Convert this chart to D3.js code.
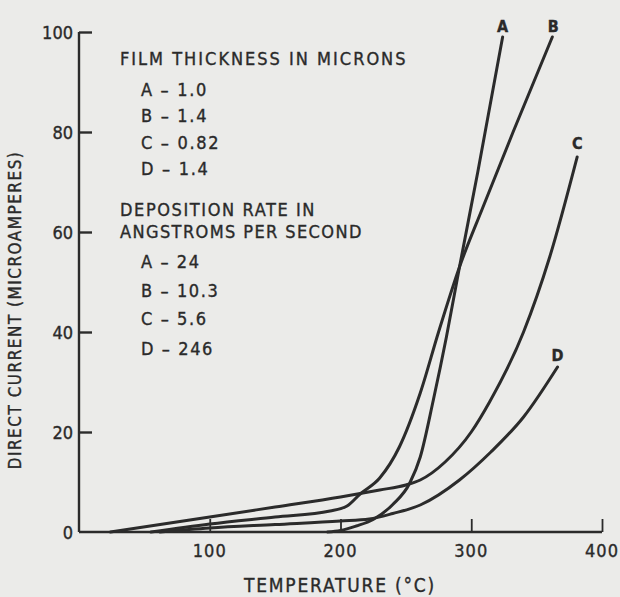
<!DOCTYPE html>
<html><head><meta charset="utf-8">
<script src="https://cdn.jsdelivr.net/npm/d3@7"></script>
<style>
html,body{margin:0;padding:0;background:#ebebe9;}
svg{display:block;}
text{font-family:"DejaVu Sans Condensed","DejaVu Sans",sans-serif;fill:#2a2a2a;stroke:#2a2a2a;stroke-width:0.35px;}
</style></head>
<body>
<svg id="chart" width="620" height="597"></svg>
<script>
// ---- data ----
const seriesNames = ["A", "B", "C", "D"];
const tempA = [190, 200, 212, 225, 240, 253, 261, 271, 281, 291, 305, 324];
const currA = [0, 0.3, 1.2, 2.5, 5.5, 9.8, 15, 26.4, 39, 53, 72, 99];
const tempB = [55, 100, 150, 192, 205, 215, 230, 245, 261, 275, 291, 309, 332, 362];
const currB = [0, 1.6, 3.0, 4.2, 5.2, 7.6, 10.8, 17, 27.8, 40, 53, 65, 80, 99];
const tempC = [24, 100, 150, 200, 230, 250, 261, 280, 300, 314, 340, 360, 381];
const currC = [0, 3.0, 5.0, 7.0, 8.4, 9.4, 10.4, 14, 20, 26, 40, 55, 75];
const tempD = [62, 100, 150, 200, 222, 240, 261, 291, 315, 340, 366];
const currD = [0, 0.8, 1.5, 2.2, 2.6, 3.7, 5.4, 10.4, 16, 23, 33];
const xTicks = [100, 200, 300, 400];
const yTicks = [20, 40, 60, 80, 100];
const thicknessTitle = "FILM THICKNESS IN MICRONS";
const thicknessLabels = ["A – 1.0", "B – 1.4", "C – 0.82", "D – 1.4"];
const rateTitle = ["DEPOSITION RATE IN", "ANGSTROMS PER SECOND"];
const rateLabels = ["A – 24", "B – 10.3", "C – 5.6", "D – 246"];
const xTitle = "TEMPERATURE (°C)";
const yTitle = "DIRECT CURRENT (MICROAMPERES)";

const series = [
  {name: "A", t: tempA, v: currA},
  {name: "B", t: tempB, v: currB},
  {name: "C", t: tempC, v: currC},
  {name: "D", t: tempD, v: currD}
];

// ---- layout ----
const svg = d3.select("#chart");
const x = d3.scaleLinear().domain([0, 400]).range([79, 602]);
const y = d3.scaleLinear().domain([0, 100]).range([532, 32]);
const ink = "#2b2b2b";

// axes
const xAxis = d3.axisBottom(x).tickValues(xTicks).tickSize(-13).tickPadding(0).tickFormat("");
const gx = svg.append("g").attr("transform", `translate(0,${y(0)})`).call(xAxis);
gx.select(".domain").attr("stroke", ink).attr("stroke-width", 2.4).attr("d", `M${x(0)},0H${x(400)}`);
gx.selectAll(".tick line").attr("stroke", ink).attr("stroke-width", 1.8);

const yAxis = d3.axisLeft(y).tickValues(yTicks).tickSize(-13).tickFormat("");
const gy = svg.append("g").attr("transform", `translate(${x(0)},0)`).call(yAxis);
gy.select(".domain").attr("stroke", ink).attr("stroke-width", 2.4).attr("d", `M0,${y(0)}V${y(100)}`);
gy.selectAll(".tick line").attr("stroke", ink).attr("stroke-width", 2.4);

// tick labels
svg.selectAll(".xl").data(xTicks).enter().append("text")
  .attr("x", d => x(d)).attr("y", 557).attr("text-anchor", "middle")
  .attr("font-size", 18).attr("letter-spacing", 1).text(d => d);
svg.selectAll(".yl").data([0].concat(yTicks)).enter().append("text")
  .attr("x", 73).attr("y", d => y(d) + 6.5).attr("text-anchor", "end")
  .attr("font-size", 18).text(d => d);

// axis titles
svg.append("text").attr("x", 340).attr("y", 592).attr("text-anchor", "middle")
  .attr("font-size", 19).attr("letter-spacing", 1.8).text(xTitle);
svg.append("text").attr("transform", "translate(21,310) rotate(-90)").attr("text-anchor", "middle")
  .attr("font-size", 17).attr("letter-spacing", 1.5).text(yTitle);

// curves
const line = d3.line().x(d => x(d[0])).y(d => y(d[1])).curve(d3.curveMonotoneX);
svg.append("g").selectAll("path").data(series).enter().append("path")
  .attr("d", s => line(s.t.map((t, i) => [t, s.v[i]])))
  .attr("fill", "none").attr("stroke", ink).attr("stroke-width", 3)
  .attr("stroke-linecap", "round");

// curve end labels
const endOffsets = {A: [0, -5], B: [1, -5], C: [0, -8], D: [0, -6]};
svg.selectAll(".cl").data(series).enter().append("text")
  .attr("x", s => x(s.t[s.t.length - 1]) + endOffsets[s.name][0])
  .attr("y", s => y(s.v[s.v.length - 1]) + endOffsets[s.name][1])
  .attr("text-anchor", "middle").attr("font-size", 16).attr("font-weight", "bold")
  .attr("stroke-width", 0).text(s => s.name);

// legend text
svg.append("text").attr("x", 120).attr("y", 65).attr("font-size", 18).attr("letter-spacing", 2).text(thicknessTitle);
svg.selectAll(".tk").data(thicknessLabels).enter().append("text")
  .attr("x", 141).attr("y", (d, i) => [96, 122, 149, 175][i]).attr("font-size", 18).attr("letter-spacing", 1.7).text(d => d);
svg.selectAll(".rt").data(rateTitle).enter().append("text")
  .attr("x", 120).attr("y", (d, i) => [216, 238][i]).attr("font-size", 18)
  .attr("letter-spacing", (d, i) => [1.6, 1.4][i]).text(d => d);
svg.selectAll(".rl").data(rateLabels).enter().append("text")
  .attr("x", 141).attr("y", (d, i) => [268, 297, 325, 355][i]).attr("font-size", 18).attr("letter-spacing", 1.6).text(d => d);
</script>
</body></html>
